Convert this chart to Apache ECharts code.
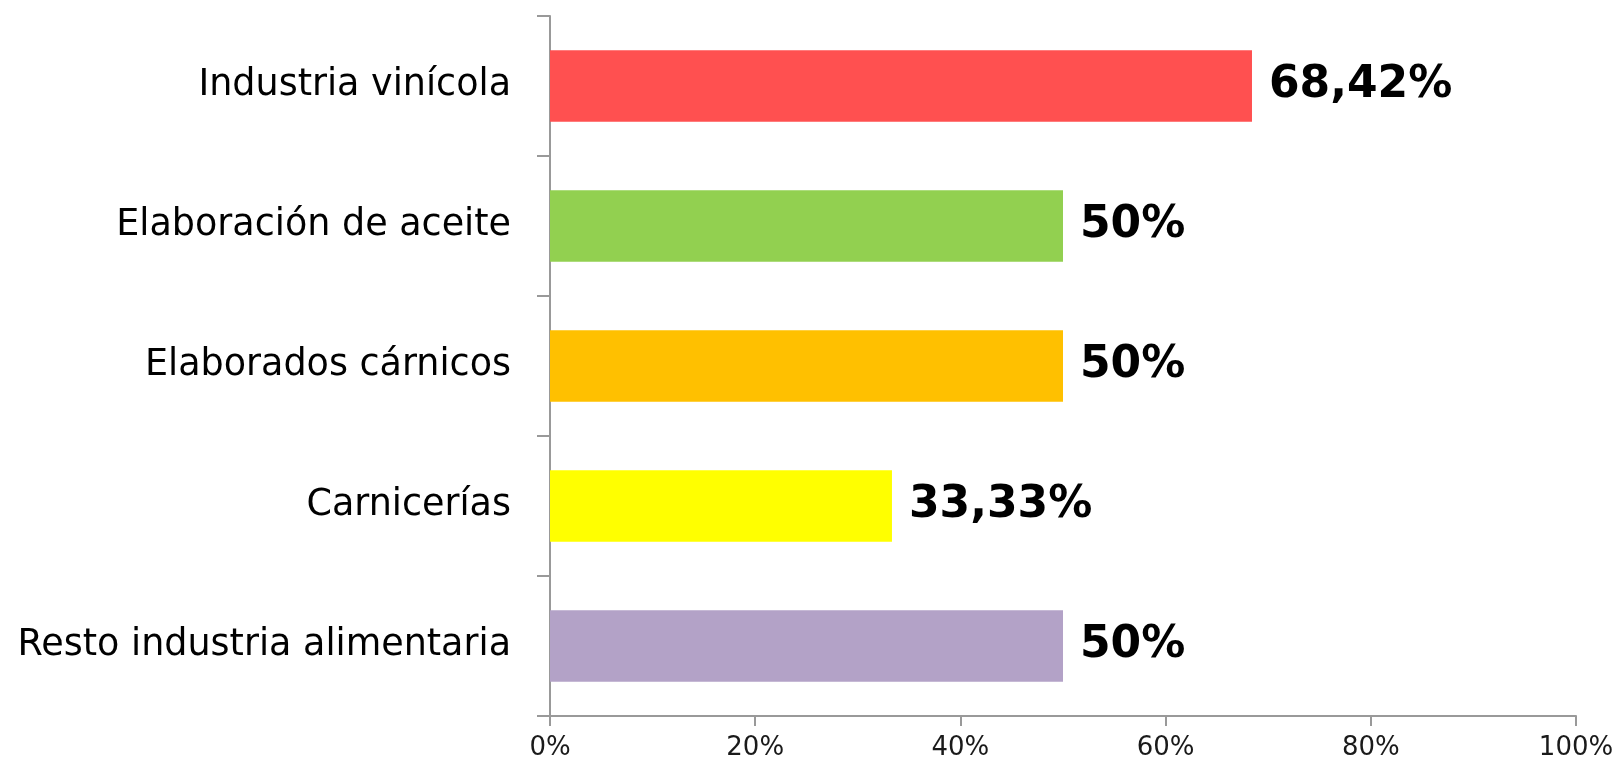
<!DOCTYPE html>
<html>
<head>
<meta charset="utf-8">
<script src="https://cdn.jsdelivr.net/npm/echarts@6/dist/echarts.min.js"></script>
<style>
  html, body { margin: 0; padding: 0; background: #fff; }
  #chart { width: 1618px; height: 765px; }
</style>
</head>
<body>
<div id="chart"></div>
<script>
// sectores (de arriba a abajo)
const categories = ['Industria vinícola', 'Elaboración de aceite', 'Elaborados cárnicos', 'Carnicerías', 'Resto industria alimentaria']
const values = [68.42, 50, 50, 33.33, 50]
const valueLabels = ['68,42%', '50%', '50%', '33,33%', '50%']
const barColors = ['#FF5050', '#92D050', '#FFC000', '#FFFF00', '#B3A2C7']

const chart = echarts.init(document.getElementById('chart'))

chart.setOption({
  backgroundColor: '#fff',
  animation: false,
  grid: {
    left: 550,
    right: 42,
    top: 16,
    bottom: 49
  },
  xAxis: {
    type: 'value',
    min: 0,
    max: 100,
    interval: 20,
    axisLine: { show: true, lineStyle: { color: '#999', width: 2 } },
    axisTick: { show: true, length: 10, lineStyle: { color: '#999', width: 2 } },
    splitLine: { show: false },
    axisLabel: {
      formatter: '{value}%',
      fontFamily: 'DejaVu Sans',
      fontSize: 26,
      color: '#1a1a1a',
      margin: 19
    }
  },
  yAxis: {
    type: 'category',
    inverse: true,
    data: categories,
    axisLine: { show: true, lineStyle: { color: '#999', width: 2 } },
    axisTick: { show: true, length: 13, lineStyle: { color: '#999', width: 2 } },
    axisLabel: {
      fontFamily: 'DejaVu Sans',
      fontSize: 36.5,
      color: '#000',
      margin: 39
    }
  },
  series: [{
    type: 'bar',
    barCategoryGap: '49%',
    data: values.map((v, i) => ({
      value: v,
      itemStyle: { color: barColors[i] }
    })),
    label: {
      show: true,
      position: 'right',
      distance: 17,
      fontFamily: 'DejaVu Sans',
      fontWeight: 'bold',
      fontSize: 44,
      color: '#000',
      formatter: p => valueLabels[p.dataIndex]
    }
  }]
})
</script>
</body>
</html>
